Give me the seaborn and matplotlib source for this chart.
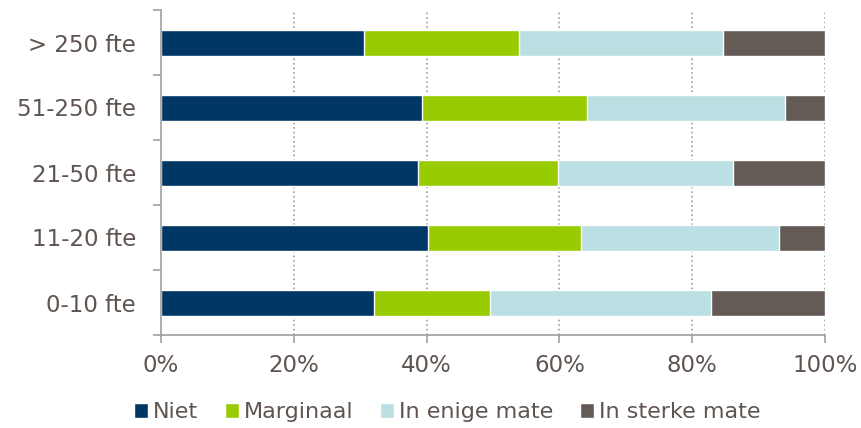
import matplotlib
matplotlib.use("Agg")
import matplotlib.pyplot as plt
import numpy as np
import pandas as pd
import seaborn as sns
from matplotlib.patches import Patch

categories = ['> 250 fte', '51-250 fte', '21-50 fte', '11-20 fte', '0-10 fte']
niet = [30.6, 39.3, 38.7, 40.2, 32.1]
marginaal = [23.3, 24.9, 21.1, 23.1, 17.4]
enige = [30.7, 29.8, 26.3, 29.8, 33.3]
sterke = [15.4, 6.0, 13.9, 6.9, 17.2]

series = ['Niet', 'Marginaal', 'In enige mate', 'In sterke mate']
colors = ['#003764', '#99cc00', '#bbe0e3', '#645a56']
text_col = '#5f5450'

sns.set_style('white')
plt.rcParams['font.family'] = ['DejaVu Sans']

df = pd.DataFrame({'cat': categories, 'Niet': niet, 'Marginaal': marginaal,
                   'In enige mate': enige, 'In sterke mate': sterke})
cum = df[series].cumsum(axis=1)

fig = plt.figure(figsize=(8.62, 4.28), dpi=100)
ax = fig.add_axes([161 / 862, 1 - 335 / 428, 664 / 862, 325 / 428])

# draw widest first so the shorter ones sit on top
for s, c in reversed(list(zip(series, colors))):
    sns.barplot(x=cum[s], y=df['cat'], orient='h', color=c, width=0.4,
                saturation=1, ax=ax, order=categories)

ax.set_xlim(0, 100)
ax.set_ylim(4.5, -0.5)
ax.set_xlabel('')
ax.set_ylabel('')
ax.set_xticks(np.arange(0, 101, 20))
ax.set_xticklabels([f'{v}%' for v in range(0, 101, 20)])
for v in range(20, 101, 20):
    ax.axvline(v, color='#8c8c8c', lw=1.1, ls=(0, (1, 2)), zorder=0)

ax.set_yticks(np.arange(-0.5, 4.6, 1))
ax.set_yticklabels([])
ax.set_yticks(range(5), minor=True)
ax.set_yticklabels(categories, minor=True)
ax.tick_params(axis='y', which='major', length=6, color='#a0a0a0', width=1.2, direction='out', left=True)
ax.tick_params(axis='y', which='minor', length=0, pad=18, labelsize=16.5, labelcolor=text_col)
ax.tick_params(axis='x', length=6, color='#a0a0a0', width=1.2, direction='out', bottom=True,
               labelsize=16.5, labelcolor=text_col, pad=8)

for side in ['top', 'right']:
    ax.spines[side].set_visible(False)
for side in ['left', 'bottom']:
    ax.spines[side].set_color('#a0a0a0')
    ax.spines[side].set_linewidth(1.2)

handles = [Patch(facecolor=c, label=s) for s, c in zip(series, colors)]
leg = fig.legend(handles=handles, loc='center', bbox_to_anchor=(447 / 862, 1 - 412 / 428),
                 ncol=4, frameon=False, fontsize=16, handlelength=0.65, handleheight=0.65,
                 handletextpad=0.2, columnspacing=1.2)
for t in leg.get_texts():
    t.set_color(text_col)

fig.savefig('out.png', dpi=100)
